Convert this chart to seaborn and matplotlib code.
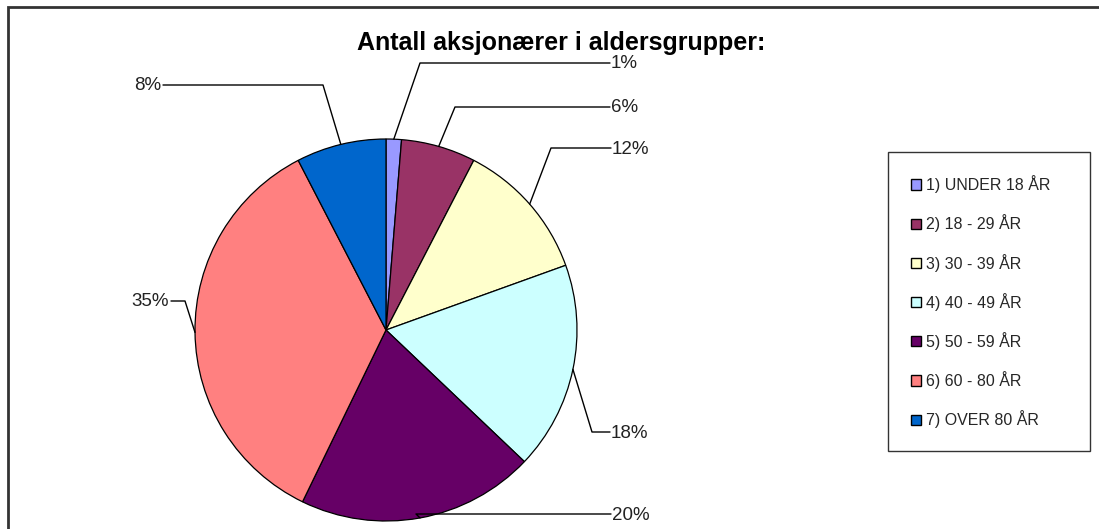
"""Pie chart: shareholders by age group."""
import numpy as np
import seaborn as sns
from matplotlib import pyplot as plt
from matplotlib.lines import Line2D
from matplotlib.patches import Rectangle

W, H = 1099, 529

groups = [
    "1) UNDER 18 ÅR",
    "2) 18 - 29 ÅR",
    "3) 30 - 39 ÅR",
    "4) 40 - 49 ÅR",
    "5) 50 - 59 ÅR",
    "6) 60 - 80 ÅR",
    "7) OVER 80 ÅR",
]
shares = [1.3, 6.3, 11.9, 17.6, 20.1, 35.2, 7.6]
colors = ["#9999FF", "#993366", "#FFFFCC", "#CCFFFF", "#660066", "#FF8080", "#0066CC"]

# label layout in pixels (y from top): bend point, end of horizontal line, side
label_layout = [
    ((420, 63), 610, "left"),
    ((455, 107), 610, "left"),
    ((551, 148), 611, "left"),
    ((592, 432), 610, "left"),
    ((416, 514), 611, "left"),
    ((185, 301), 171, "right"),
    ((323, 85), 163, "right"),
]

sns.set_theme(style="white")
plt.rcParams["font.family"] = ["Liberation Sans", "DejaVu Sans"]

fig = plt.figure(figsize=(W / 100, H / 100), dpi=100)
ax = fig.add_axes([0, 0, 1, 1])
ax.set_xlim(0, W)
ax.set_ylim(0, H)
ax.set_aspect("equal")
ax.axis("off")

# chart area frame (runs off the right and bottom edges)
ax.add_patch(Rectangle((8, -20), W + 40, H - 7 + 20, fill=False,
                       edgecolor="#333333", linewidth=2))

cx, cy, r = 386, H - 330, 191
wedges, _ = ax.pie(shares, colors=sns.color_palette(colors), startangle=90,
                   counterclock=False, center=(cx, cy), radius=r,
                   wedgeprops=dict(edgecolor="black", linewidth=0.9))
ax.set_xlim(0, W)
ax.set_ylim(0, H)

for w, v, (bend, xend, side) in zip(wedges, shares, label_layout):
    ang = np.deg2rad((w.theta1 + w.theta2) / 2)
    x0, y0 = cx + r * np.cos(ang), cy + r * np.sin(ang)
    bx, by = bend[0], H - bend[1]
    ax.add_line(Line2D([x0, bx, xend], [y0, by, by], color="black", linewidth=1))
    tx = xend + 1 if side == "left" else xend - 2
    ax.text(tx, by - 1, f"{v:.0f}%", ha=side, va="center", fontsize=13.5,
            color="#222222")

ax.text(561, H - 43, "Antall aksjonærer i aldersgrupper:", ha="center",
        va="center", fontsize=18, fontweight="bold", color="black")

handles = [Rectangle((0, 0), 1, 1, facecolor=c, edgecolor="black", linewidth=1)
           for c in colors]
leg = fig.legend(handles, groups, loc="upper left", mode="expand",
                 bbox_to_anchor=(888 / W, 1 - 152 / H, 202 / W, 0), frameon=True,
                 fontsize=11.5, handlelength=0.6, handleheight=0.6,
                 handletextpad=0.3, labelspacing=1.33, borderpad=1.45,
                 borderaxespad=0, fancybox=False)
leg.get_frame().set_edgecolor("black")
leg.get_frame().set_linewidth(1)

fig.savefig("out.png", dpi=100)
